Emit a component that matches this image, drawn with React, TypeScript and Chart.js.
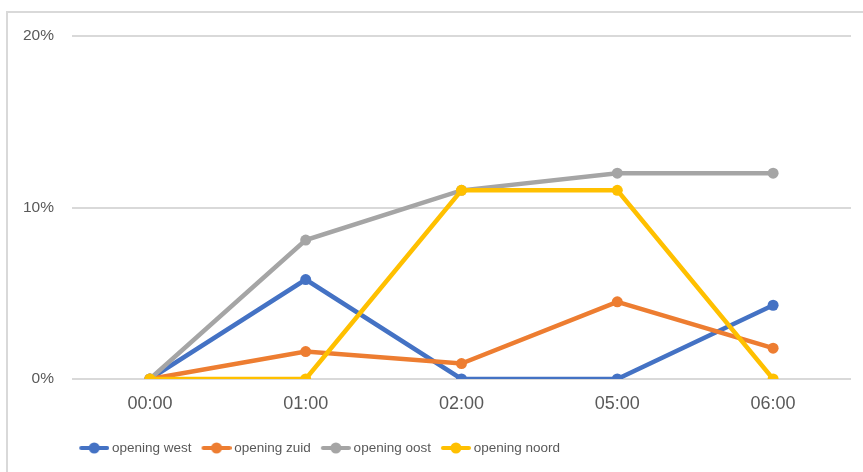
import React, { useEffect, useRef } from "react";
import { Chart, registerables } from "chart.js";

Chart.register(...registerables);

const categories = ["00:00", "01:00", "02:00", "05:00", "06:00"];
const seriesNames = ["opening west", "opening zuid", "opening oost", "opening noord"];
const westValues = [0, 5.8, 0, 0, 4.3];
const zuidValues = [0, 1.6, 0.9, 4.5, 1.8];
const oostValues = [0, 8.1, 11, 12, 12];
const noordValues = [0, 0, 11, 11, 0];
const seriesColors = ["#4472C4", "#ED7D31", "#A5A5A5", "#FFC000"];
const yTickValues = [0, 10, 20];

function makeLegendIcon(color: string): HTMLCanvasElement {
  const c = document.createElement("canvas");
  c.width = 32;
  c.height = 12;
  const ctx = c.getContext("2d")!;
  ctx.strokeStyle = color;
  ctx.lineWidth = 4;
  ctx.lineCap = "round";
  ctx.beginPath();
  ctx.moveTo(4, 6);
  ctx.lineTo(30, 6);
  ctx.stroke();
  ctx.fillStyle = color;
  ctx.beginPath();
  ctx.arc(17, 6, 5.5, 0, Math.PI * 2);
  ctx.fill();
  return c;
}

export default function App() {
  const canvasRef = useRef<HTMLCanvasElement | null>(null);

  useEffect(() => {
    const canvas = canvasRef.current;
    if (!canvas) return;
    const allValues = [westValues, zuidValues, oostValues, noordValues];
    const icons = seriesColors.map((c) => makeLegendIcon(c));
    const legendShift = {
      id: "legendShift",
      afterLayout(ch: any) {
        if (ch.legend) ch.legend.left = 69.25;
      },
    };
    const chart = new Chart(canvas, {
      type: "line",
      data: {
        labels: categories,
        datasets: allValues.map((vals, i) => ({
          label: seriesNames[i],
          data: vals,
          borderColor: seriesColors[i],
          backgroundColor: seriesColors[i],
          borderWidth: 4.5,
          pointRadius: 5.5,
          pointHoverRadius: 5.5,
          pointBorderWidth: 0,
          pointBackgroundColor: seriesColors[i],
          tension: 0,
          fill: false,
          order: 4 - i,
        })),
      },
      plugins: [legendShift],
      options: {
        responsive: false,
        animation: false,
        devicePixelRatio: 1,
        layout: { padding: { left: 8, right: 12, top: 36, bottom: 7.25 } },
        plugins: {
          tooltip: { enabled: false },
          legend: {
            position: "bottom",
            align: "start",
            labels: {
              usePointStyle: true,
              pointStyleWidth: 24,
              padding: 12,
              color: "#595959",
              font: { family: "'Liberation Sans', sans-serif", size: 13.5 },
              generateLabels: (ch: any) =>
                ch.data.datasets.map((ds: any, i: number) => ({
                  text: ds.label,
                  fillStyle: seriesColors[i],
                  strokeStyle: seriesColors[i],
                  lineWidth: 0,
                  pointStyle: icons[i],
                  hidden: false,
                  datasetIndex: i,
                  fontColor: "#595959",
                })),
            },
          },
        },
        scales: {
          x: {
            type: "category",
            offset: true,
            grid: { display: false, drawTicks: false },
            border: { display: false },
            ticks: {
              color: "#595959",
              padding: 14,
              maxRotation: 0,
              font: { family: "'Liberation Sans', sans-serif", size: 18 },
            },
            afterFit: (scale: any) => {
              scale.height = 50.25;
            },
          },
          y: {
            min: 0,
            max: 20,
            afterBuildTicks: (scale: any) => {
              scale.ticks = yTickValues.map((v) => ({ value: v }));
            },
            grid: { color: "#D9D9D9", lineWidth: 2, drawTicks: false },
            border: { display: false },
            ticks: {
              color: "#595959",
              padding: 18,
              font: { family: "'Liberation Sans', sans-serif", size: 15.5 },
              callback: (v: any) => v + "%",
            },
            afterFit: (scale: any) => {
              scale.width = 64;
            },
          },
        },
      },
    });
    return () => chart.destroy();
  }, []);

  return (
    <div style={{ position: "fixed", left: 0, top: 0, width: 863, height: 472, overflow: "hidden", background: "#fff" }}>
      <div
        style={{
          position: "absolute",
          left: 6,
          top: 11,
          width: 900,
          height: 520,
          border: "2px solid #D9D9D9",
          boxSizing: "border-box",
        }}
      />
      <canvas
        ref={canvasRef}
        width={863}
        height={472}
        style={{ position: "absolute", left: 0, top: 0, width: 863, height: 472 }}
      />
    </div>
  );
}
